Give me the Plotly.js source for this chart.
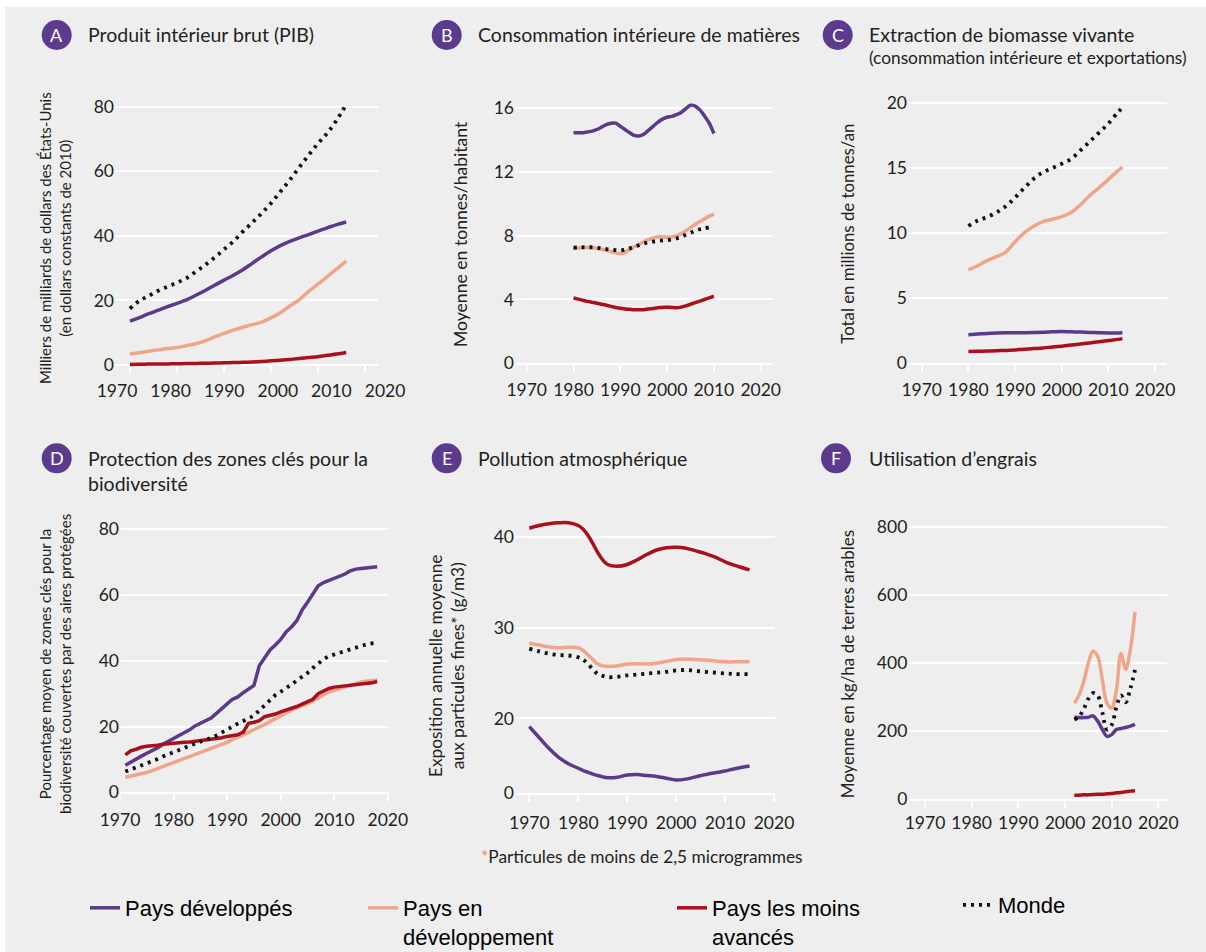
<!DOCTYPE html>
<html><head><meta charset="utf-8">
<script src="https://cdn.plot.ly/plotly-3.0.1.min.js"></script>
<style>
html,body{margin:0;padding:0;background:#fff;width:1206px;height:952px;overflow:hidden}
#chart{position:absolute;left:0;top:0;width:1206px;height:952px;overflow:hidden}
</style>
</head><body><div id="chart"></div>
<script>
// ---------- DATA ----------
const seriesNames = ['Pays développés', 'Pays en<br>développement', 'Pays les moins<br>avancés', 'Monde'];
const tickYears = [1970, 1980, 1990, 2000, 2010, 2020];
const tickYearLabels = ['1970', '1980', '1990', '2000', '2010', '2020'];

// A - PIB
const yearsA = [1970,1972,1974,1976,1978,1980,1982,1984,1986,1988,1990,1992,1994,1996,1998,2000,2002,2004,2006,2008,2010,2012,2014,2016];
const gdpDev   = [13.6,14.7,15.9,17.0,18.1,19.1,20.2,21.6,23.1,24.7,26.3,27.8,29.5,31.5,33.5,35.4,37.0,38.3,39.4,40.4,41.5,42.5,43.5,44.3];
const gdpDvp   = [3.4,3.8,4.3,4.7,5.1,5.4,6.0,6.6,7.5,8.7,9.8,10.8,11.7,12.5,13.3,14.6,16.2,18.3,20.2,22.8,25.1,27.4,29.8,32.2];
const gdpLdc   = [0.2,0.25,0.3,0.3,0.35,0.4,0.45,0.5,0.55,0.6,0.7,0.75,0.85,0.95,1.1,1.3,1.5,1.75,2.0,2.3,2.6,3.0,3.4,3.9];
const gdpWorld = [17.5,19.9,21.4,23.0,24.3,25.5,26.9,28.9,31.0,33.3,35.8,38.3,41.3,44.1,47.0,50.1,53.7,57.3,61.2,65.0,68.6,71.9,75.9,80.7];
const ticksA = [0, 20, 40, 60, 80];

// B - Consommation intérieure de matières
const yearsB = [1980,1981,1982,1983,1984,1985,1986,1987,1988,1989,1990,1991,1992,1993,1994,1995,1996,1997,1998,1999,2000,2001,2002,2003,2004,2005,2006,2007,2008,2009,2010];
const yearsBWorld = yearsB.slice(0, 30);
const dmcDev   = [14.45,14.45,14.45,14.5,14.55,14.65,14.8,14.95,15.04,15.05,14.85,14.65,14.45,14.28,14.25,14.35,14.6,14.85,15.1,15.3,15.42,15.47,15.58,15.72,15.95,16.17,16.12,15.88,15.5,15.05,14.4];
const dmcDvp   = [7.2,7.22,7.25,7.26,7.25,7.2,7.15,7.08,7.0,6.92,6.88,6.95,7.15,7.3,7.45,7.62,7.75,7.85,7.92,7.92,7.9,7.92,7.98,8.12,8.3,8.5,8.7,8.88,9.05,9.22,9.35];
const dmcLdc   = [4.1,4.02,3.95,3.88,3.82,3.76,3.7,3.64,3.57,3.5,3.45,3.4,3.38,3.36,3.35,3.36,3.4,3.44,3.48,3.5,3.52,3.5,3.48,3.52,3.6,3.7,3.8,3.9,4.0,4.1,4.2];
const dmcWorld = [7.25,7.26,7.27,7.27,7.27,7.24,7.2,7.16,7.12,7.09,7.07,7.12,7.2,7.3,7.4,7.5,7.58,7.63,7.67,7.7,7.72,7.76,7.82,7.92,8.05,8.18,8.3,8.4,8.45,8.52];
const ticksB = [0, 4, 8, 12, 16];

// C - Extraction de biomasse vivante
const yearsC = [1980,1982,1984,1986,1988,1990,1992,1994,1996,1998,2000,2002,2004,2006,2008,2010,2012,2013];
const bioDev   = [2.2,2.25,2.3,2.33,2.35,2.35,2.35,2.36,2.38,2.42,2.45,2.42,2.4,2.37,2.35,2.33,2.34,2.35];
const bioDvp   = [7.18,7.5,7.9,8.2,8.55,9.35,10.05,10.55,10.9,11.08,11.28,11.6,12.2,12.9,13.5,14.15,14.8,15.1];
const bioLdc   = [0.9,0.92,0.94,0.96,0.99,1.03,1.08,1.13,1.18,1.25,1.32,1.4,1.48,1.57,1.66,1.75,1.84,1.9];
const bioWorld = [10.56,10.98,11.25,11.6,12.08,12.75,13.5,14.2,14.7,15.02,15.35,15.72,16.38,17.05,17.75,18.45,19.3,19.65];
const ticksC = [0, 5, 10, 15, 20];

// D - Protection des zones clés pour la biodiversité
const yearsD = [1971,1972,1973,1974,1975,1976,1977,1978,1979,1980,1981,1982,1983,1984,1985,1986,1987,1988,1989,1990,1991,1992,1993,1994,1995,1996,1997,1998,1999,2000,2001,2002,2003,2004,2005,2006,2007,2008,2009,2010,2011,2012,2013,2014,2015,2016,2017,2018];
const kbaDev   = [8.2,9.2,10.3,11.0,11.9,12.6,13.5,14.6,15.5,16.2,17.0,17.9,19.0,20.2,21.0,21.9,22.6,24.0,25.3,26.9,28.3,29.0,30.3,31.5,32.5,38.5,41.0,43.3,44.8,46.5,48.8,50.3,52.2,55.5,57.8,60.3,62.8,63.8,64.4,65.0,65.7,66.4,67.4,67.9,68.1,68.3,68.5,68.6];
const kbaDvp   = [4.6,4.9,5.2,5.6,6.0,6.6,7.2,7.7,8.3,8.9,9.6,10.2,10.9,11.5,12.1,12.7,13.3,13.9,14.5,15.2,16.0,16.7,17.4,18.2,19.1,19.8,20.6,21.5,22.4,23.3,24.3,25.0,25.7,26.3,27.0,27.8,28.7,29.6,30.5,31.0,31.5,32.0,32.6,33.1,33.6,33.8,34.0,34.2];
const kbaLdc   = [11.4,12.6,13.1,13.7,14.0,14.1,14.3,14.6,14.8,15.0,15.1,15.2,15.3,15.5,15.8,16.0,16.3,16.4,16.6,17.0,17.3,17.5,18.3,21.0,21.3,21.8,23.0,23.4,23.8,24.5,25.0,25.6,26.1,26.8,27.5,28.3,30.0,30.8,31.6,32.0,32.2,32.4,32.6,32.8,32.9,33.0,33.3,33.7];
const kbaWorld = [6.3,6.9,7.5,8.1,8.8,9.4,10.1,10.9,11.6,12.2,12.8,13.5,14.1,14.8,15.4,15.9,16.5,17.3,18.1,19.1,20.0,20.9,21.7,22.4,23.3,24.9,26.5,28.0,29.6,30.6,31.6,32.8,34.0,35.1,36.3,37.8,39.3,40.5,41.4,42.0,42.5,43.0,43.5,44.0,44.6,45.0,45.3,45.5];
const ticksD = [0, 20, 40, 60, 80];

// E - Pollution atmosphérique (axe interrompu : le repère « 0 » est placé sous 20)
const yearsE = [1970,1972,1974,1976,1978,1980,1981,1982,1983,1984,1985,1986,1988,1990,1992,1994,1996,1998,2000,2002,2004,2006,2008,2010,2012,2015];
const pmDev   = [19.1,17.9,16.7,15.7,15.0,14.5,14.25,14.05,13.85,13.7,13.55,13.45,13.5,13.75,13.8,13.7,13.6,13.4,13.2,13.3,13.55,13.8,14.0,14.2,14.45,14.75];
const pmDvp   = [28.3,28.1,27.9,27.8,27.85,27.8,27.5,27.0,26.5,26.0,25.8,25.75,25.8,26.0,26.05,26.0,26.1,26.3,26.5,26.55,26.5,26.45,26.35,26.25,26.25,26.3];
const pmLdc   = [41.0,41.3,41.5,41.6,41.6,41.3,40.9,40.2,39.3,38.3,37.5,37.0,36.8,37.0,37.5,38.1,38.6,38.85,38.9,38.8,38.5,38.2,37.8,37.3,36.9,36.4];
const pmWorld = [27.7,27.4,27.15,27.0,26.95,26.75,26.5,26.0,25.4,24.9,24.7,24.55,24.6,24.75,24.85,24.95,25.05,25.15,25.3,25.35,25.25,25.15,25.05,24.97,24.9,24.9];
const ticksE = [11.8, 20, 30, 40];
const ticksELabels = ['0', '20', '30', '40'];

// F - Utilisation d'engrais
const yearsF = [2002,2003,2004,2005,2006,2007,2008,2009,2010,2011,2012,2013,2014,2015];
const fertDev   = [241,240,240,241,245,230,205,185,190,205,208,211,215,220];
const fertDvp   = [282,306,345,400,435,420,350,282,268,320,428,382,440,551];
const fertLdc   = [12,12,13,13,14,15,15,16,17,19,20,22,24,25];
const fertWorld = [234,243,265,295,312,305,255,205,218,270,305,285,325,380];
const ticksF = [0, 200, 400, 600, 800];

// ---------- STYLE / LAYOUT ----------
const W = 1206, H = 952;
const fx = p => p / W;
const fy = p => 1 - p / H;
const colDev = '#5b3a8c', colDvp = '#eea589', colLdc = '#a8101d', colWorld = '#111111';
const textCol = '#231f20';
const fontMain = 'Lato, "Noto Sans", sans-serif';
const tickFont = {family: fontMain, size: 17.5, color: textCol};
const LW = 3.5;

const traces = [];
function addPanel(xa, ya, shape, dev, dvp, ldc, world, showLeg) {
  const mk = (xs, ys, color, name, idx, dash, width) => ({
    type: 'scatter', mode: 'lines', x: xs, y: ys, xaxis: xa, yaxis: ya,
    name: name, legendgroup: 'g' + idx,
    legend: idx === 0 ? 'legend' : 'legend' + (idx + 1),
    showlegend: !!showLeg,
    line: {color: color, width: width || LW, shape: shape, smoothing: 1, dash: dash || 'solid'},
    hoverinfo: 'skip'
  });
  traces.push(mk(dev[0], dev[1], colDev, seriesNames[0], 0));
  traces.push(mk(dvp[0], dvp[1], colDvp, seriesNames[1], 1));
  traces.push(mk(ldc[0], ldc[1], colLdc, seriesNames[2], 2));
  traces.push(mk(world[0], world[1], colWorld, seriesNames[3], 3, '3px,5px', 3.8));
}
addPanel('x', 'y', 'spline', [yearsA, gdpDev], [yearsA, gdpDvp], [yearsA, gdpLdc], [yearsA, gdpWorld], true);
addPanel('x2', 'y2', 'spline', [yearsB, dmcDev], [yearsB, dmcDvp], [yearsB, dmcLdc], [yearsBWorld, dmcWorld]);
addPanel('x3', 'y3', 'spline', [yearsC, bioDev], [yearsC, bioDvp], [yearsC, bioLdc], [yearsC, bioWorld]);
addPanel('x4', 'y4', 'linear', [yearsD, kbaDev], [yearsD, kbaDvp], [yearsD, kbaLdc], [yearsD, kbaWorld]);
addPanel('x5', 'y5', 'spline', [yearsE, pmDev], [yearsE, pmDvp], [yearsE, pmLdc], [yearsE, pmWorld]);
addPanel('x6', 'y6', 'spline', [yearsF, fertDev], [yearsF, fertDvp], [yearsF, fertLdc], [yearsF, fertWorld]);
// empty trace hosting the label-only axis of panel A
traces.push({type: 'scatter', mode: 'lines', x: [], y: [], xaxis: 'x7', yaxis: 'y7', showlegend: false, hoverinfo: 'skip'});

function xAx(d0, d1, r0, r1, extra) {
  return Object.assign({
    domain: [fx(d0), fx(d1)], range: [r0, r1], tickvals: tickYears, ticktext: tickYearLabels,
    ticks: 'outside', ticklen: 7, tickwidth: 2, tickcolor: '#ffffff',
    showline: true, linecolor: '#ffffff', linewidth: 2, showgrid: false, zeroline: false,
    tickfont: tickFont, layer: 'below traces', fixedrange: true
  }, extra || {});
}
function yAx(top, bottom, r0, r1, tv, tt, extra) {
  return Object.assign({
    domain: [fy(bottom), fy(top)], range: [r0, r1], tickvals: tv, ticktext: tt || tv.map(String),
    ticks: '', showline: false, showgrid: true, gridcolor: '#ffffff', gridwidth: 2, zeroline: false,
    tickfont: tickFont, layer: 'below traces', fixedrange: true
  }, extra || {});
}

const layout = {
  width: W, height: H, margin: {l: 0, r: 0, t: 0, b: 0, autoexpand: false},
  paper_bgcolor: '#ffffff', plot_bgcolor: 'rgba(0,0,0,0)',
  font: {family: fontMain, color: textCol},
  xaxis:  xAx(115, 378.3, 1966.81, 2022.83, {anchor: 'free', position: fy(365), showticklabels: false}),
  yaxis:  yAx(93.8, 367.3, -0.7, 84, ticksA, null, {anchor: 'x'}),
  xaxis7: {domain: [fx(99.9), fx(400.2)], range: [1966.81, 2022.83], anchor: 'y7', tickvals: tickYears, ticktext: tickYearLabels,
           ticks: 'outside', ticklen: 7, tickcolor: 'rgba(0,0,0,0)', ticklabelstandoff: 3, showline: false, showgrid: false, zeroline: false, tickfont: tickFont, fixedrange: true},
  yaxis7: {domain: [fy(365), fy(93.8)], range: [0, 1], anchor: 'x7', visible: false, showgrid: false, zeroline: false, fixedrange: true},
  xaxis2: xAx(515, 773, 1967.5, 2022.63, {anchor: 'y2', ticklabelstandoff: 3}),
  yaxis2: yAx(95.2, 363.3, 0, 16.8, ticksB, null, {anchor: 'x2'}),
  xaxis3: xAx(908, 1167.3, 1967.06, 2022.62, {anchor: 'y3', ticklabelstandoff: 3}),
  yaxis3: yAx(90.3, 363.3, 0, 21, ticksC, null, {anchor: 'x3'}),
  xaxis4: xAx(120, 388.4, 1970, 2020.1, {anchor: 'y4', ticklabelstandoff: 4}),
  yaxis4: yAx(516.2, 792.3, 0, 84, ticksD, null, {anchor: 'x4'}),
  xaxis5: xAx(515, 775, 1967.08, 2020.2, {anchor: 'y5', ticklabelstandoff: 6}),
  yaxis5: yAx(519.2, 792.7, 11.8, 42, ticksE, ticksELabels, {anchor: 'x5'}),
  xaxis6: xAx(908.3, 1167.3, 1966.42, 2021.92, {anchor: 'y6'}),
  yaxis6: yAx(513.3, 799.3, 0, 840, ticksF, null, {anchor: 'x6'}),
  showlegend: true,
  hovermode: false,
  shapes: [],
  annotations: []
};

const legFont = {family: '"Liberation Sans", Arial, sans-serif', size: 22, color: '#000000'};
const legBase = {xanchor: 'left', yanchor: 'top', bgcolor: 'rgba(0,0,0,0)', borderwidth: 0, font: legFont, valign: 'top', itemclick: false, itemdoubleclick: false};
layout.legend  = Object.assign({x: fx(85),  y: fy(887)}, legBase);
layout.legend2 = Object.assign({x: fx(363), y: fy(887)}, legBase);
layout.legend3 = Object.assign({x: fx(672), y: fy(887)}, legBase);
layout.legend4 = Object.assign({x: fx(958), y: fy(884)}, legBase);

// grey background panel
layout.shapes.push({type: 'rect', xref: 'paper', yref: 'paper', x0: fx(5), x1: 1, y0: 0, y1: fy(7),
  fillcolor: '#eeeeee', line: {width: 0}, layer: 'below'});

// badges + titles
const badges = [
  {L: 'A', cx: 56.7, cy: 35}, {L: 'B', cx: 446.7, cy: 35}, {L: 'C', cx: 837.7, cy: 35},
  {L: 'D', cx: 56.7, cy: 458.3}, {L: 'E', cx: 446.7, cy: 458.3}, {L: 'F', cx: 836, cy: 458.3}
];
badges.forEach(b => {
  layout.shapes.push({type: 'circle', xref: 'paper', yref: 'paper', x0: fx(b.cx - 15), x1: fx(b.cx + 15),
    y0: fy(b.cy + 15), y1: fy(b.cy - 15), fillcolor: '#5c3a8e', line: {width: 0}, layer: 'above'});
  layout.annotations.push({xref: 'paper', yref: 'paper', x: fx(b.cx), y: fy(b.cy), text: b.L, showarrow: false,
    xanchor: 'center', yanchor: 'middle', font: {family: fontMain, size: 18, color: '#ffffff'}});
});
const titleFont = {family: fontMain, size: 19.5, color: textCol};
function ann(x, y, text, font, opts) {
  layout.annotations.push(Object.assign({xref: 'paper', yref: 'paper', x: fx(x), y: fy(y), text: text,
    showarrow: false, xanchor: 'left', yanchor: 'middle', font: font, align: 'left'}, opts || {}));
}
ann(86, 35, 'Produit intérieur brut (PIB)', titleFont);
ann(476, 35, 'Consommation intérieure de matières', titleFont);
ann(867, 35, 'Extraction de biomasse vivante', titleFont);
ann(867, 57, '(consommation intérieure et exportations)', {family: fontMain, size: 17.3, color: textCol});
ann(86, 470.8, 'Protection des zones clés pour la<br>biodiversité', titleFont);
ann(476, 458.3, 'Pollution atmosphérique', titleFont);
ann(867, 458.3, 'Utilisation d’engrais', titleFont);

// y-axis titles
function yTitle(x, y, text, size) {
  layout.annotations.push({xref: 'paper', yref: 'paper', x: fx(x), y: fy(y), text: text, showarrow: false,
    textangle: -90, xanchor: 'center', yanchor: 'middle', align: 'center', font: {family: fontMain, size: size, color: textCol}});
}
yTitle(55, 238, 'Milliers de milliards de dollars des États-Unis<br>(en dollars constants de 2010)', 15);
yTitle(460, 234, 'Moyenne en tonnes/habitant', 17.6);
yTitle(846.7, 234, 'Total en millions de tonnes/an', 16.8);
yTitle(55, 664, 'Pourcentage moyen de zones clés pour la<br>biodiversité couvertes par des aires protégées', 15);
yTitle(446, 666, 'Exposition annuelle moyenne<br>aux particules fines* (g/m3)', 17.3);
yTitle(847.3, 664, 'Moyenne en kg/ha de terres arables', 17);

// footnote
layout.annotations.push({xref: 'paper', yref: 'paper', x: fx(641.5), y: fy(856), showarrow: false,
  xanchor: 'center', yanchor: 'middle',
  text: '<span style="color:#f08a6a">*</span>Particules de moins de 2,5 microgrammes',
  font: {family: fontMain, size: 17.3, color: textCol}});

Plotly.newPlot('chart', traces, layout, {staticPlot: true, displayModeBar: false});
</script>
</body></html>
